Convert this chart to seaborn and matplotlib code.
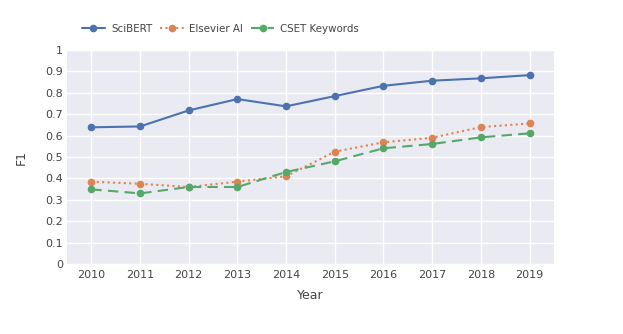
import matplotlib
matplotlib.use("Agg")
import matplotlib.pyplot as plt
import seaborn as sns
import pandas as pd

years = [2010, 2011, 2012, 2013, 2014, 2015, 2016, 2017, 2018, 2019]
scibert = [0.639, 0.643, 0.718, 0.771, 0.737, 0.785, 0.833, 0.857, 0.868, 0.883]
elsevier = [0.385, 0.375, 0.360, 0.385, 0.410, 0.525, 0.569, 0.590, 0.640, 0.657]
cset = [0.349, 0.330, 0.360, 0.360, 0.430, 0.480, 0.541, 0.561, 0.592, 0.611]
series_names = ["SciBERT", "Elsevier AI", "CSET Keywords"]
y_ticks = [0, 0.1, 0.2, 0.3, 0.4, 0.5, 0.6, 0.7, 0.8, 0.9, 1]
y_tick_labels = ["0", "0.1", "0.2", "0.3", "0.4", "0.5", "0.6", "0.7", "0.8", "0.9", "1"]

df = pd.DataFrame({
    "Year": years * 3,
    "F1": scibert + elsevier + cset,
    "Model": [series_names[0]] * 10 + [series_names[1]] * 10 + [series_names[2]] * 10,
})

sns.set_theme(style="darkgrid")
plt.rcParams["font.family"] = ["DejaVu Sans"]

fig = plt.figure(figsize=(6.23, 3.34), dpi=100)
ax = fig.add_axes([0.1075, 0.2096, 0.889 - 0.1075, 0.850 - 0.2096])
ax.set_facecolor("#EAEAF2")

colors = {"SciBERT": "#4C72B0", "Elsevier AI": "#DD8452", "CSET Keywords": "#55A868"}
dashes = {"SciBERT": "", "Elsevier AI": (1, 1.6), "CSET Keywords": (5, 3)}

sns.lineplot(data=df, x="Year", y="F1", hue="Model", style="Model",
             palette=colors, dashes=dashes, markers={"SciBERT": "o", "Elsevier AI": "o", "CSET Keywords": "o"},
             markersize=5.5, markeredgewidth=0, linewidth=1.5, ax=ax, legend="full")

ax.set_xlim(2009.5, 2019.5)
ax.set_ylim(0, 1)
ax.set_xticks(years)
ax.set_xticklabels([str(y) for y in years])
ax.set_yticks(y_ticks)
ax.set_yticklabels(y_tick_labels)
ax.grid(True, color="white", linewidth=1)
for s in ax.spines.values():
    s.set_visible(False)
ax.tick_params(axis="x", length=0, labelsize=8, colors="#444444", pad=4)
ax.tick_params(axis="y", length=0, labelsize=8, colors="#444444", pad=3)
ax.set_xlabel("Year", fontsize=9, color="#444444")
ax.set_ylabel("F1", fontsize=9, color="#444444")
ax.xaxis.set_label_coords(0.5, -0.117)
ax.yaxis.set_label_coords(-0.080, 0.5)

handles, labels = ax.get_legend_handles_labels()
ax.get_legend().remove()
fig.legend(handles, labels, loc="center left", bbox_to_anchor=(0.131, 0.913), ncol=3,
           frameon=False, fontsize=7.4, handlelength=2.3, columnspacing=0.75, handletextpad=0.55,
           labelcolor="#444444", borderpad=0, borderaxespad=0)

fig.savefig("out.png", dpi=100, facecolor="white")
